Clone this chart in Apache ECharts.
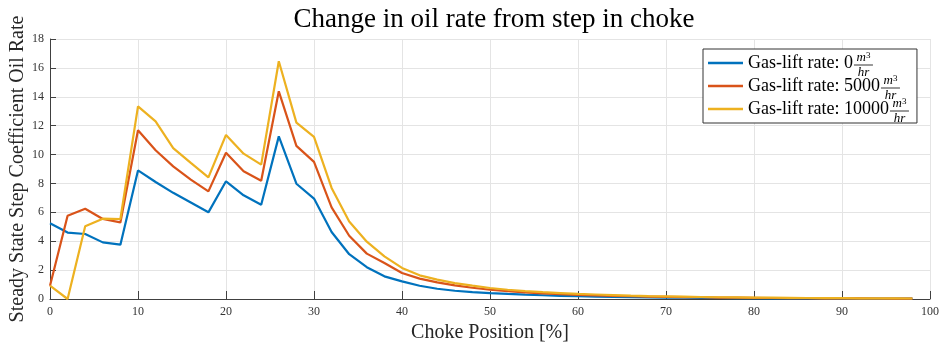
<!DOCTYPE html>
<html>
<head>
<meta charset="utf-8">
<script src="https://cdn.jsdelivr.net/npm/echarts@6/dist/echarts.min.js"></script>
<style>
  html, body { margin: 0; padding: 0; background: #fff; }
  #chart { width: 941px; height: 347px; }
</style>
</head>
<body>
<div id="chart"></div>
<script>
// Choke position (%) at which each step response was evaluated
const chokePosition = [0, 2, 4, 6, 8, 10, 12, 14, 16, 18, 20, 22, 24, 26, 28, 30, 32, 34, 36, 38,
  40, 42, 44, 46, 48, 50, 52, 54, 56, 58, 60, 62, 64, 66, 68, 70, 72, 74, 76, 78,
  80, 82, 84, 86, 88, 90, 92, 94, 96, 98];

// Steady state step coefficient of oil rate, one list per gas-lift rate
const gasLift0 = [5.25, 4.6, 4.5, 3.92, 3.76, 8.9, 8.1, 7.35, 6.68, 6.0, 8.15, 7.18, 6.53, 11.26, 7.98, 6.95, 4.64, 3.1, 2.2, 1.57,
  1.22, 0.92, 0.71, 0.57, 0.48, 0.41, 0.35, 0.30, 0.26, 0.22, 0.19, 0.17, 0.15, 0.13, 0.11, 0.10, 0.09, 0.08, 0.07, 0.06,
  0.055, 0.05, 0.045, 0.04, 0.035, 0.03, 0.03, 0.025, 0.02, 0.02];
const gasLift5000 = [0.92, 5.77, 6.25, 5.54, 5.3, 11.68, 10.3, 9.18, 8.26, 7.45, 10.13, 8.84, 8.19, 14.38, 10.6, 9.49, 6.34, 4.38, 3.14, 2.49,
  1.8, 1.41, 1.15, 0.94, 0.78, 0.64, 0.54, 0.46, 0.39, 0.34, 0.29, 0.25, 0.22, 0.19, 0.17, 0.15, 0.13, 0.12, 0.10, 0.09,
  0.08, 0.07, 0.065, 0.06, 0.05, 0.045, 0.04, 0.035, 0.03, 0.03];
const gasLift10000 = [0.92, 0.0, 5.03, 5.56, 5.54, 13.34, 12.3, 10.45, 9.42, 8.42, 11.36, 10.06, 9.3, 16.46, 12.21, 11.22, 7.69, 5.37, 3.97, 2.95,
  2.15, 1.64, 1.34, 1.1, 0.92, 0.76, 0.64, 0.55, 0.47, 0.41, 0.35, 0.31, 0.27, 0.23, 0.20, 0.18, 0.16, 0.14, 0.12, 0.11,
  0.10, 0.09, 0.08, 0.07, 0.06, 0.055, 0.05, 0.045, 0.04, 0.035];

const seriesNames = ['Gas-lift rate: 0', 'Gas-lift rate: 5000', 'Gas-lift rate: 10000'];
const seriesValues = [gasLift0, gasLift5000, gasLift10000];
const seriesColors = ['#0072BD', '#D95319', '#EDB120'];

const SERIF = '"Liberation Serif", "DejaVu Serif", serif';
const AXIS_COLOR = '#404040';
const GRID_COLOR = '#e4e4e4';

const chart = echarts.init(document.getElementById('chart'), null, { renderer: 'canvas' });

// Legend geometry
const LEG_LEFT = 703, LEG_TOP = 49;
const LEG_PAD = [5, 28, 5, 5];
const ICON_W = 35, ROW_H = 18, ROW_GAP = 5, TEXT_GAP = 5;
const LEG_FONT_SIZE = 18;

// Measure legend label widths so the units fraction can sit right after each label
const measureCtx = document.createElement('canvas').getContext('2d');
measureCtx.font = LEG_FONT_SIZE + 'px ' + SERIF;

const unitGraphics = [];
seriesNames.forEach(function (name, i) {
  const w = measureCtx.measureText(name).width;
  const x0 = LEG_LEFT + LEG_PAD[3] + ICON_W + TEXT_GAP + w + 1;
  const cy = LEG_TOP + LEG_PAD[0] + i * (ROW_H + ROW_GAP) + ROW_H / 2 + 2;
  const fracW = 19;
  unitGraphics.push({
    type: 'text', x: x0 + fracW / 2, y: cy - 0.5, z: 100,
    style: {
      text: '{m|m}{s|3}', align: 'center', verticalAlign: 'bottom', fill: '#000',
      rich: {
        m: { fontFamily: SERIF, fontStyle: 'italic', fontSize: 13, fill: '#000', verticalAlign: 'bottom' },
        s: { fontFamily: SERIF, fontSize: 9, fill: '#000', verticalAlign: 'top' }
      }
    }
  });
  unitGraphics.push({
    type: 'line', z: 100,
    shape: { x1: x0, y1: cy, x2: x0 + fracW, y2: cy },
    style: { stroke: '#000', lineWidth: 0.8 }
  });
  unitGraphics.push({
    type: 'text', x: x0 + fracW / 2, y: cy + 1, z: 100,
    style: { text: 'hr', align: 'center', verticalAlign: 'top', fontFamily: SERIF, fontStyle: 'italic', fontSize: 13, fill: '#000' }
  });
});

chart.setOption({
  animation: false,
  backgroundColor: '#ffffff',
  title: {
    text: 'Change in oil rate from step in choke',
    left: 489, textAlign: 'center', top: 1,
    textStyle: { fontFamily: SERIF, fontSize: 27, fontWeight: 'normal', color: '#000' }
  },
  grid: { left: 50, right: 11, top: 39, bottom: 48, containLabel: false, outerBoundsMode: 'none' },
  legend: {
    orient: 'vertical',
    left: LEG_LEFT, top: LEG_TOP,
    padding: LEG_PAD,
    itemGap: ROW_GAP,
    itemWidth: ICON_W, itemHeight: ROW_H,
    backgroundColor: '#ffffff',
    borderColor: '#333333', borderWidth: 1, borderRadius: 0,
    icon: 'path://M0,0 L35,0 L35,2.5 L0,2.5 Z',
    textStyle: { fontFamily: SERIF, fontSize: LEG_FONT_SIZE, color: '#000', lineHeight: ROW_H, padding: [0, 0, 0, 0] },
    data: seriesNames
  },
  xAxis: {
    type: 'value', min: 0, max: 100, interval: 10,
    name: 'Choke Position [%]', nameLocation: 'middle', nameGap: 24, nameMoveOverlap: false,
    nameTextStyle: { fontFamily: SERIF, fontSize: 20, color: '#262626' },
    axisLine: { show: true, onZero: false, lineStyle: { color: AXIS_COLOR, width: 1 } },
    axisTick: { show: true, inside: true, length: 8, lineStyle: { color: AXIS_COLOR } },
    axisLabel: { fontFamily: SERIF, fontSize: 12, color: '#333', margin: 7 },
    splitLine: { show: true, lineStyle: { color: GRID_COLOR, width: 1 } }
  },
  yAxis: {
    type: 'value', min: 0, max: 18, interval: 2,
    name: 'Steady State Step Coefficient Oil Rate', nameLocation: 'middle', nameGap: 22, nameMoveOverlap: false,
    nameTextStyle: { fontFamily: SERIF, fontSize: 20, color: '#262626' },
    axisLine: { show: true, onZero: false, lineStyle: { color: AXIS_COLOR, width: 1 } },
    axisTick: { show: true, inside: true, length: 6, lineStyle: { color: AXIS_COLOR } },
    axisLabel: { fontFamily: SERIF, fontSize: 12, color: '#333', margin: 6 },
    splitLine: { show: true, lineStyle: { color: GRID_COLOR, width: 1 } }
  },
  series: seriesNames.map(function (name, i) {
    return {
      name: name,
      type: 'line',
      showSymbol: false,
      symbol: 'none',
      color: seriesColors[i],
      lineStyle: { width: 2.2, color: seriesColors[i] },
      z: 3 + i,
      data: chokePosition.map(function (x, j) { return [x, seriesValues[i][j]]; })
    };
  }),
  graphic: unitGraphics
});
</script>
</body>
</html>
